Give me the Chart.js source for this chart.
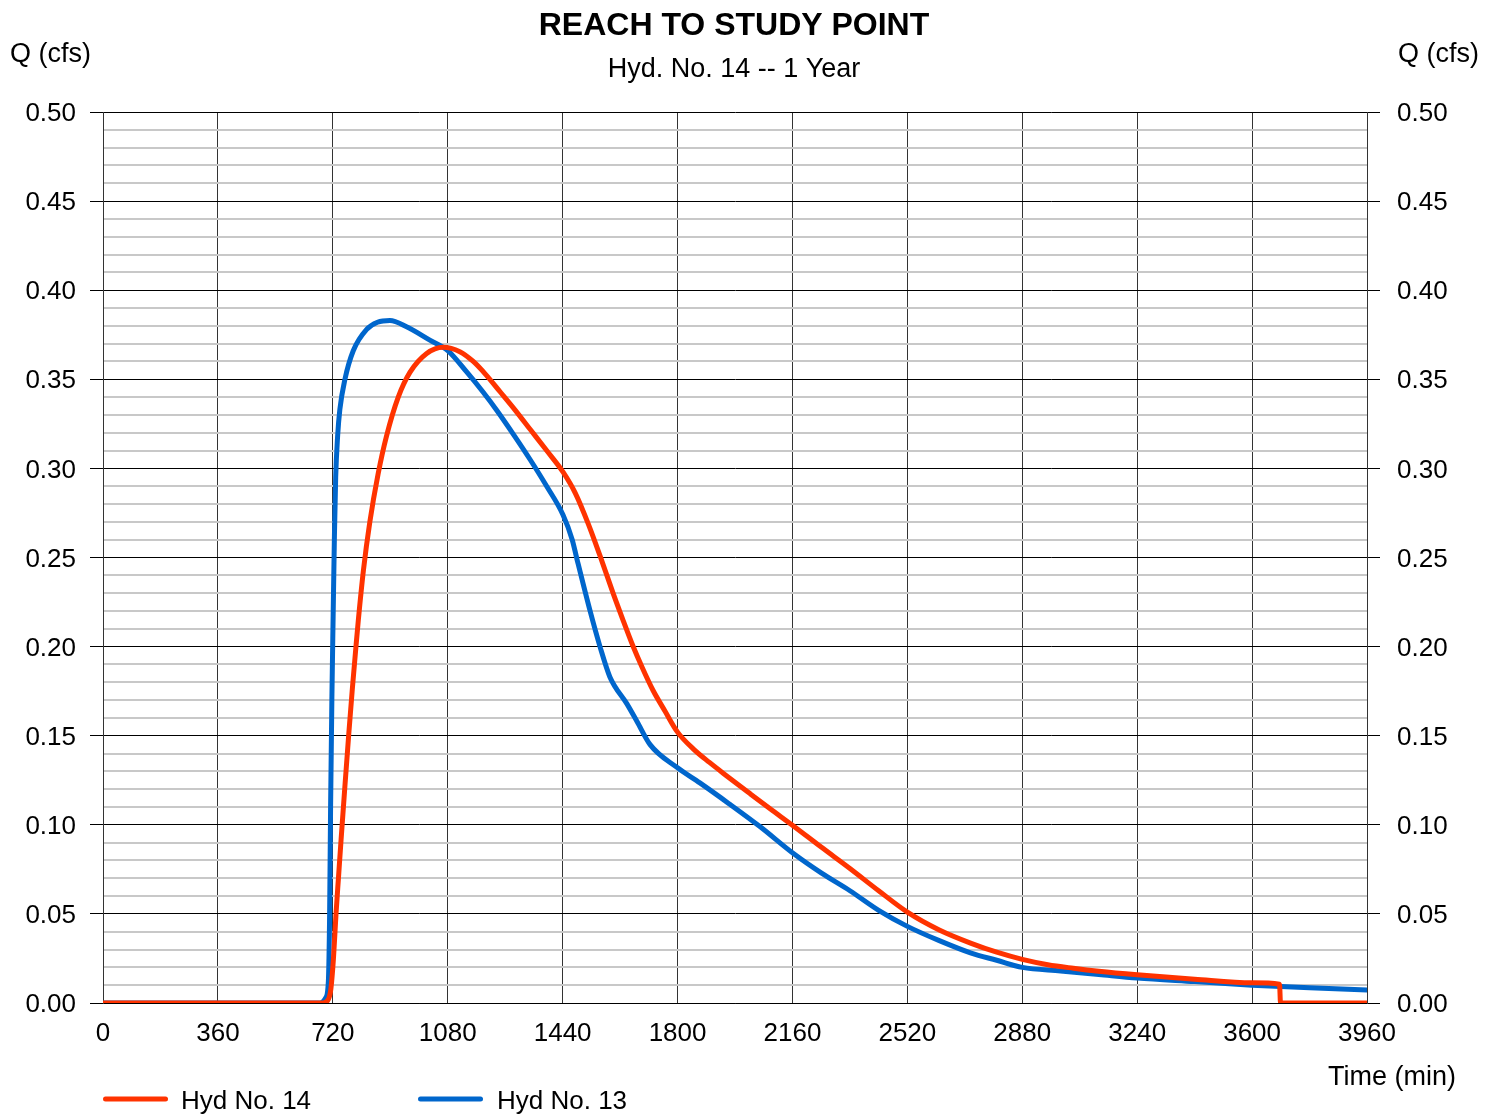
<!DOCTYPE html>
<html>
<head>
<meta charset="utf-8">
<title>REACH TO STUDY POINT</title>
<script src="https://cdn.jsdelivr.net/npm/chart.js@4/dist/chart.umd.min.js"></script>
<style>
  html, body { margin: 0; padding: 0; background: #ffffff; }
  #wrap { width: 1494px; height: 1114px; position: relative; }
</style>
</head>
<body>
<div id="wrap"><canvas id="hydro" width="1494" height="1114"></canvas></div>
<script>
// Hydrograph: routed reach (Hyd No. 14) and inflow (Hyd No. 13), 1-year storm
const chartTitle = 'REACH TO STUDY POINT';
const chartSubtitle = 'Hyd. No. 14 -- 1 Year';
const yAxisTitle = 'Q (cfs)';
const xAxisTitle = 'Time (min)';

const seriesNames = ['Hyd No. 14', 'Hyd No. 13'];
const seriesColors = ['#ff3300', '#0066cc'];

// Time axis tick labels (min) and flow tick labels (cfs)
const timeTicks = [0, 360, 720, 1080, 1440, 1800, 2160, 2520, 2880, 3240, 3600, 3960];
const flowTicks = [0.00, 0.05, 0.10, 0.15, 0.20, 0.25, 0.30, 0.35, 0.40, 0.45, 0.50];
const flowMinorStep = 0.01;

// Hyd No. 14 — time (min) and flow (cfs)
const hyd14Time = [0, 690, 706, 714, 722, 730, 738, 746, 758, 770, 781, 792, 800, 816, 836, 862, 888, 925, 962, 1014, 1066, 1118, 1160, 1200, 1244, 1290, 1340, 1390, 1441, 1480, 1520, 1557, 1598, 1630, 1660, 1690, 1723, 1760, 1800, 1850, 1900, 1950, 2027, 2090, 2162, 2250, 2340, 2430, 2520, 2620, 2720, 2800, 2880, 2960, 3040, 3120, 3240, 3420, 3600, 3686, 3689, 3960];
const hyd14Flow = [0, 0, 0.002, 0.008, 0.025, 0.05, 0.071, 0.092, 0.122, 0.151, 0.176, 0.199, 0.215, 0.243, 0.27, 0.297, 0.318, 0.34, 0.354, 0.3645, 0.368, 0.3655, 0.36, 0.3525, 0.343, 0.333, 0.3215, 0.31, 0.298, 0.286, 0.269, 0.251, 0.23, 0.2145, 0.2005, 0.188, 0.1755, 0.164, 0.152, 0.1425, 0.135, 0.128, 0.1175, 0.109, 0.0995, 0.0875, 0.0755, 0.063, 0.051, 0.041, 0.0335, 0.0285, 0.0245, 0.0215, 0.0195, 0.0178, 0.0158, 0.0133, 0.0113, 0.0105, 0, 0];

// Hyd No. 13 — time (min) and flow (cfs)
const hyd13Time = [0, 680, 698, 706, 710, 713, 717, 721, 725, 729, 735, 742, 758, 784, 826, 860, 899, 951, 1024, 1081, 1140, 1190, 1234, 1290, 1338, 1390, 1441, 1470, 1485, 1526, 1557, 1588, 1641, 1673, 1714, 1800, 1870, 1960, 2058, 2162, 2250, 2340, 2430, 2520, 2620, 2720, 2800, 2880, 3000, 3120, 3240, 3420, 3600, 3780, 3960];
const hyd13Flow = [0, 0, 0.003, 0.012, 0.05, 0.11, 0.17, 0.217, 0.262, 0.295, 0.318, 0.333, 0.35, 0.366, 0.378, 0.382, 0.383, 0.3795, 0.372, 0.366, 0.354, 0.343, 0.3325, 0.318, 0.305, 0.29, 0.274, 0.26, 0.249, 0.22, 0.2, 0.183, 0.168, 0.158, 0.145, 0.132, 0.1235, 0.112, 0.099, 0.084, 0.073, 0.063, 0.052, 0.043, 0.035, 0.028, 0.024, 0.020, 0.018, 0.016, 0.014, 0.012, 0.010, 0.0085, 0.0073];

const FONT = '"Liberation Sans", Arial, Helvetica, sans-serif';

function toPoints(times, flows) {
  return times.map((t, i) => ({ x: t, y: flows[i] }));
}
function isMajorFlow(v) {
  return flowTicks.some(f => Math.abs(f - v) < 1e-6);
}
function flowTickList() {
  const list = [];
  const lo = flowTicks[0], hi = flowTicks[flowTicks.length - 1];
  const n = Math.round((hi - lo) / flowMinorStep);
  for (let i = 0; i <= n; i++) list.push({ value: +(lo + i * flowMinorStep).toFixed(4) });
  return list;
}

// Titles, axis captions and the legend drawn around the plot
const framePlugin = {
  id: 'frameText',
  afterDraw(chart) {
    const ctx = chart.ctx;
    ctx.save();
    ctx.fillStyle = '#000000';
    ctx.textBaseline = 'alphabetic';

    ctx.textAlign = 'center';
    ctx.font = 'bold 32px ' + FONT;
    ctx.fillText(chartTitle, 734, 35);
    ctx.font = '27px ' + FONT;
    ctx.fillText(chartSubtitle, 734, 77);

    ctx.textAlign = 'left';
    ctx.fillText(yAxisTitle, 10, 62);
    ctx.fillText(yAxisTitle, 1398, 62);
    ctx.textAlign = 'right';
    ctx.fillText(xAxisTitle, 1456, 1085);

    // legend
    const items = [{ x: 103, tx: 181 }, { x: 418, tx: 497 }];
    chart.data.datasets.forEach((ds, i) => {
      const it = items[i];
      ctx.strokeStyle = ds.borderColor;
      ctx.lineWidth = 5;
      ctx.lineCap = 'round';
      ctx.beginPath();
      ctx.moveTo(it.x + 2.5, 1099);
      ctx.lineTo(it.x + 62.5, 1099);
      ctx.stroke();
      ctx.fillStyle = '#000000';
      ctx.textAlign = 'left';
      ctx.font = '26px ' + FONT;
      ctx.fillText(ds.label, it.tx, 1109);
    });
    ctx.restore();
  }
};

const yGrid = {
  color: c => isMajorFlow(c.tick.value) ? '#000000' : '#c8c8c8',
  lineWidth: c => isMajorFlow(c.tick.value) ? 1 : 2,
  tickColor: c => isMajorFlow(c.tick.value) ? '#000000' : 'rgba(0,0,0,0)',
  tickLength: 13,
  tickWidth: 1
};
const yTicks = {
  autoSkip: false,
  labelOffset: 2,
  color: '#000000',
  font: { family: FONT, size: 26 },
  callback: v => isMajorFlow(v) ? v.toFixed(2) : ''
};

new Chart(document.getElementById('hydro'), {
  type: 'line',
  data: {
    datasets: [
      {
        label: seriesNames[0],
        data: toPoints(hyd14Time, hyd14Flow),
        borderColor: seriesColors[0],
        backgroundColor: seriesColors[0],
        borderWidth: 5,
        borderCapStyle: 'round',
        borderJoinStyle: 'round',
        pointRadius: 0,
        cubicInterpolationMode: 'monotone',
        fill: false
      },
      {
        label: seriesNames[1],
        data: toPoints(hyd13Time, hyd13Flow),
        borderColor: seriesColors[1],
        backgroundColor: seriesColors[1],
        borderWidth: 5,
        borderCapStyle: 'round',
        borderJoinStyle: 'round',
        pointRadius: 0,
        cubicInterpolationMode: 'monotone',
        fill: false
      }
    ]
  },
  options: {
    responsive: false,
    animation: false,
    devicePixelRatio: 1,
    layout: { padding: { top: 112, left: 0, right: 0, bottom: 0 } },
    plugins: {
      legend: { display: false },
      title: { display: false },
      tooltip: { enabled: false }
    },
    scales: {
      x: {
        type: 'linear',
        position: 'bottom',
        min: timeTicks[0],
        max: timeTicks[timeTicks.length - 1],
        afterBuildTicks: s => { s.ticks = timeTicks.map(v => ({ value: v })); },
        afterFit: s => { s.height = 111; },
        grid: { color: '#333333', lineWidth: 1, drawTicks: false },
        border: { display: true, color: '#000000', width: 1 },
        ticks: {
          autoSkip: false,
          maxRotation: 0,
          padding: 15,
          color: '#000000',
          font: { family: FONT, size: 26 },
          callback: v => String(v)
        }
      },
      y: {
        type: 'linear',
        position: 'left',
        min: flowTicks[0],
        max: flowTicks[flowTicks.length - 1],
        afterBuildTicks: s => { s.ticks = flowTickList(); },
        afterFit: s => { s.width = 103; },
        grid: yGrid,
        border: { display: true, color: '#333333', width: 1 },
        ticks: Object.assign({ padding: 14 }, yTicks)
      },
      y2: {
        type: 'linear',
        position: 'right',
        min: flowTicks[0],
        max: flowTicks[flowTicks.length - 1],
        afterBuildTicks: s => { s.ticks = flowTickList(); },
        afterFit: s => { s.width = 127; },
        grid: Object.assign({ drawOnChartArea: false }, yGrid),
        border: { display: true, color: '#333333', width: 1 },
        ticks: Object.assign({ padding: 17 }, yTicks)
      }
    }
  },
  plugins: [framePlugin]
});
</script>
</body>
</html>
